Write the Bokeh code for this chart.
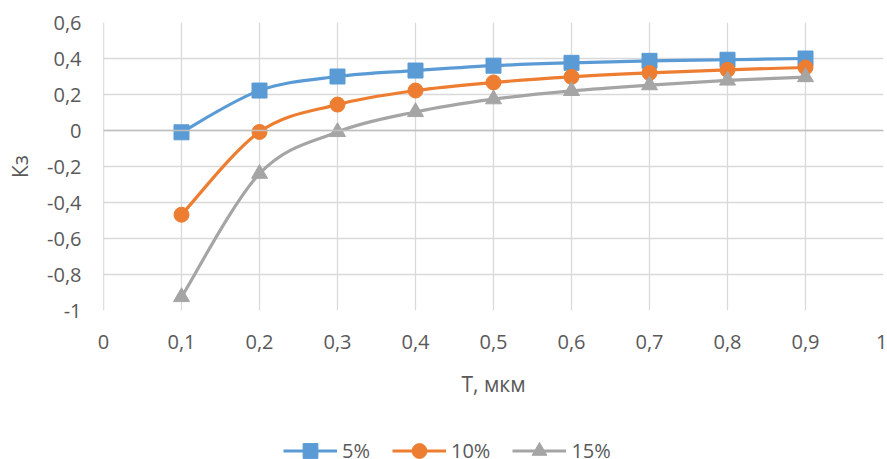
from bokeh.plotting import figure
from bokeh.models import (Range1d, FixedTicker, CustomJSTickFormatter, Span, Legend, LegendItem,
                          ColumnDataSource)
from bokeh.layouts import column
from bokeh.embed import file_html
from bokeh.resources import INLINE

# ---- data ----
T = [0.1, 0.2, 0.3, 0.4, 0.5, 0.6, 0.7, 0.8, 0.9]
k5 = [-0.01, 0.222, 0.30, 0.333, 0.36, 0.376, 0.387, 0.393, 0.40]
k10 = [-0.468, -0.008, 0.144, 0.222, 0.267, 0.298, 0.32, 0.337, 0.35]
k15 = [-0.925, -0.24, -0.008, 0.103, 0.174, 0.22, 0.252, 0.278, 0.297]
labels = ["5%", "10%", "15%"]
colors = ["#5B9BD5", "#ED7D31", "#A5A5A5"]
x_ticks = [0, 0.1, 0.2, 0.3, 0.4, 0.5, 0.6, 0.7, 0.8, 0.9, 1.0]
y_ticks = [-1, -0.8, -0.6, -0.4, -0.2, 0, 0.2, 0.4, 0.6]

FONT = "Open Sans"
TXT = "#595959"
GRID = "#D9D9D9"

p = figure(width=887, height=410, output_backend="svg", toolbar_location=None,
           x_range=Range1d(0, 1), y_range=Range1d(-1, 0.6),
           min_border_left=103, min_border_right=4, min_border_top=22, min_border_bottom=100)
p.outline_line_color = None
p.background_fill_color = "white"
p.border_fill_color = "white"

fmt = CustomJSTickFormatter(code="return (Math.round(tick*10)/10).toString().replace('.', ',');")

for ax in (p.xaxis[0], p.yaxis[0]):
    ax.axis_line_color = None
    ax.major_tick_line_color = None
    ax.minor_tick_line_color = None
    ax.major_tick_out = 0
    ax.major_tick_in = 0
    ax.major_label_text_font = FONT
    ax.major_label_text_font_size = "20px"
    ax.major_label_text_color = TXT
    ax.axis_label_text_font = FONT
    ax.axis_label_text_font_size = "21px"
    ax.axis_label_text_color = TXT
    ax.axis_label_text_font_style = "normal"
    ax.formatter = fmt

p.xaxis.ticker = FixedTicker(ticks=x_ticks)
p.yaxis.ticker = FixedTicker(ticks=y_ticks)
p.xaxis.axis_label = "T, мкм"
p.yaxis.axis_label = "Кз"
p.xaxis.major_label_standoff = 24
p.xaxis.axis_label_standoff = 18
p.yaxis.major_label_standoff = 22
p.yaxis.axis_label_standoff = 10

p.xgrid.ticker = FixedTicker(ticks=x_ticks)
p.ygrid.ticker = FixedTicker(ticks=y_ticks)
p.xgrid.grid_line_color = GRID
p.ygrid.grid_line_color = GRID
p.xgrid.grid_line_width = 1.3
p.ygrid.grid_line_width = 1.3

p.add_layout(Span(location=0, dimension="width", line_color="#BFBFBF", line_width=1.3))
p.add_layout(Span(location=0, dimension="height", line_color="#BFBFBF", line_width=1.3))


def smooth_segments(xs, ys):
    n = len(xs)
    d = dict(x0=[], y0=[], x1=[], y1=[], cx0=[], cy0=[], cx1=[], cy1=[])
    for i in range(n - 1):
        xa, ya = xs[max(i - 1, 0)], ys[max(i - 1, 0)]
        xb, yb = xs[i], ys[i]
        xc, yc = xs[i + 1], ys[i + 1]
        xd, yd = xs[min(i + 2, n - 1)], ys[min(i + 2, n - 1)]
        d["x0"].append(xb); d["y0"].append(yb)
        d["x1"].append(xc); d["y1"].append(yc)
        d["cx0"].append(xb + (xc - xa) / 6.0); d["cy0"].append(yb + (yc - ya) / 6.0)
        d["cx1"].append(xc - (xd - xb) / 6.0); d["cy1"].append(yc - (yd - yb) / 6.0)
    return ColumnDataSource(d)


series = [k5, k10, k15]
markers = ["square", "circle", "triangle"]
sizes = [15, 15, 16]
for ys, col, mk, sz in zip(series, colors, markers, sizes):
    src = smooth_segments(T, ys)
    p.bezier(x0="x0", y0="y0", x1="x1", y1="y1", cx0="cx0", cy0="cy0", cx1="cx1", cy1="cy1",
             source=src, line_color=col, line_width=3.2)
    p.scatter(T, ys, marker=mk, size=sz, fill_color=col, line_color=col)

# ---- legend strip below the chart (its renderers lie outside its visible range) ----
q = figure(width=887, height=49, output_backend="svg", toolbar_location=None,
           x_range=Range1d(5, 6), y_range=Range1d(5, 6),
           x_axis_type=None, y_axis_type=None, min_border=0)
q.outline_line_color = None
q.grid.visible = False
q.border_fill_color = "white"

items = []
for ys, lab, col, mk, sz in zip(series, labels, colors, markers, sizes):
    lr = q.line(T, ys, line_color=col, line_width=3.2)
    sr = q.scatter(T, ys, marker=mk, size=sz, fill_color=col, line_color=col)
    items.append(LegendItem(label=lab, renderers=[lr, sr]))

legend = Legend(items=items, orientation="horizontal", location=(180, -10),
                label_text_font=FONT, label_text_font_size="20px", label_text_color=TXT,
                glyph_width=54, glyph_height=37, label_height=20, label_standoff=5, spacing=22,
                padding=0, margin=0, border_line_color=None, background_fill_alpha=0)
q.add_layout(legend, "center")

layout = column(p, q, spacing=0)
open("out.html", "w").write(file_html(layout, INLINE))
